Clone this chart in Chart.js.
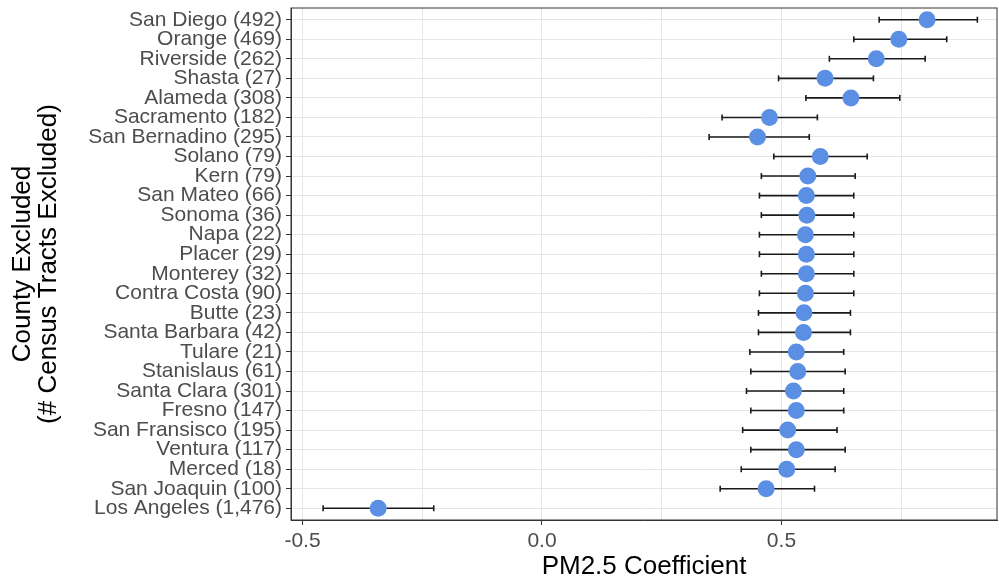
<!DOCTYPE html>
<html>
<head>
<meta charset="utf-8">
<script src="https://cdn.jsdelivr.net/npm/chart.js@4"></script>
<style>
  html, body { margin: 0; padding: 0; background: #ffffff; }
  #c { display: block; }
</style>
</head>
<body>
<canvas id="c" width="999" height="583"></canvas>
<script>
// ---- Data ----
const counties = [
  "San Diego (492)", "Orange (469)", "Riverside (262)", "Shasta (27)", "Alameda (308)",
  "Sacramento (182)", "San Bernadino (295)", "Solano (79)", "Kern (79)", "San Mateo (66)",
  "Sonoma (36)", "Napa (22)", "Placer (29)", "Monterey (32)", "Contra Costa (90)",
  "Butte (23)", "Santa Barbara (42)", "Tulare (21)", "Stanislaus (61)", "Santa Clara (301)",
  "Fresno (147)", "San Fransisco (195)", "Ventura (117)", "Merced (18)", "San Joaquin (100)",
  "Los Angeles (1,476)"
];
const coef = [
  0.804, 0.745, 0.698, 0.591, 0.645,
  0.475, 0.450, 0.581, 0.555, 0.552,
  0.553, 0.550, 0.552, 0.552, 0.550,
  0.547, 0.546, 0.531, 0.534, 0.525,
  0.531, 0.513, 0.531, 0.511, 0.468,
  -0.342
];
const lower = [
  0.704, 0.651, 0.600, 0.494, 0.551,
  0.376, 0.349, 0.484, 0.458, 0.454,
  0.458, 0.454, 0.454, 0.458, 0.454,
  0.452, 0.452, 0.434, 0.436, 0.427,
  0.436, 0.419, 0.436, 0.416, 0.372,
  -0.457
];
const upper = [
  0.909, 0.845, 0.800, 0.692, 0.747,
  0.575, 0.558, 0.679, 0.654, 0.651,
  0.651, 0.651, 0.651, 0.651, 0.651,
  0.644, 0.644, 0.630, 0.633, 0.630,
  0.630, 0.616, 0.633, 0.612, 0.569,
  -0.226
];
const xTickValues = [-0.5, -0.25, 0, 0.25, 0.5, 0.75];
const xMajorTicks = [-0.5, 0, 0.5];
const xTitle = "PM2.5 Coefficient";
const yTitle = ["County Excluded", "(# Census Tracts Excluded)"];

// ---- Build datasets from the arrays ----
const pointData = coef.map((v, i) => ({ x: v, y: i }));
const barData = [];
lower.forEach((lo, i) => {
  barData.push({ x: lo, y: i });
  barData.push({ x: upper[i], y: i });
  barData.push({ x: null, y: null });
});

const FONT = "'Liberation Sans', Arial, sans-serif";

const borderPlugin = {
  id: 'panelBorder',
  afterDatasetsDraw(chart) {
    const { ctx, chartArea: a } = chart;
    ctx.save();
    ctx.strokeStyle = '#333333';
    ctx.lineWidth = 1;
    ctx.strokeRect(a.left, a.top, a.right - a.left, a.bottom - a.top);
    ctx.restore();
  }
};

new Chart(document.getElementById('c'), {
  type: 'scatter',
  data: {
    datasets: [
      {
        label: 'coef',
        data: pointData,
        pointRadius: 8.5,
        pointHoverRadius: 8.5,
        backgroundColor: '#5b8fe4',
        borderWidth: 0,
        showLine: false
      },
      {
        label: 'ci',
        type: 'line',
        data: barData,
        borderColor: '#1a1a1a',
        borderWidth: 1.6,
        spanGaps: false,
        fill: false,
        pointStyle: 'line',
        rotation: 90,
        pointRadius: 3,
        pointHoverRadius: 3,
        pointBorderColor: '#1a1a1a',
        pointBorderWidth: 1.6,
        tension: 0
      }
    ]
  },
  options: {
    responsive: false,
    animation: false,
    events: [],
    layout: { autoPadding: false, padding: { left: 0, right: 2, top: 8, bottom: 0 } },
    plugins: {
      legend: { display: false },
      tooltip: { enabled: false }
    },
    scales: {
      x: {
        type: 'linear',
        min: -0.524,
        max: 0.95,
        afterFit(scale) { scale.height = 63; scale.paddingLeft = 0; scale.paddingRight = 0; },
        afterBuildTicks(scale) { scale.ticks = xTickValues.map(v => ({ value: v })); },
        ticks: {
          color: '#4d4d4d',
          font: { family: FONT, size: 21 },
          padding: 4,
          maxRotation: 0,
          autoSkip: false,
          callback: (v) => xMajorTicks.includes(v) ? v.toFixed(1) : ''
        },
        grid: {
          color: '#e6e6e6',
          lineWidth: 1,
          tickLength: 5,
          tickColor: (ctx) => (ctx.tick && xMajorTicks.includes(ctx.tick.value)) ? '#333333' : 'rgba(0,0,0,0)'
        },
        border: { display: true, color: '#333333', width: 1 },
        title: {
          display: true,
          text: xTitle,
          color: '#000000',
          font: { family: FONT, size: 26, lineHeight: 1 },
          padding: { top: 0, bottom: 3 }
        }
      },
      y: {
        type: 'linear',
        reverse: true,
        min: -0.6,
        max: 25.6,
        afterFit(scale) { scale.width = 291; scale.paddingTop = 0; scale.paddingBottom = 0; },
        afterBuildTicks(scale) { scale.ticks = counties.map((c, i) => ({ value: i })); },
        ticks: {
          color: '#4d4d4d',
          font: { family: FONT, size: 21 },
          padding: 4,
          autoSkip: false,
          callback: (v) => counties[v]
        },
        grid: {
          color: '#e6e6e6',
          lineWidth: 1,
          tickLength: 5,
          tickColor: '#333333'
        },
        border: { display: true, color: '#333333', width: 1 },
        title: {
          display: true,
          text: yTitle,
          color: '#000000',
          font: { family: FONT, size: 26, lineHeight: 1 },
          padding: { top: 10, bottom: 0 }
        }
      }
    }
  },
  plugins: [borderPlugin]
});
</script>
</body>
</html>
